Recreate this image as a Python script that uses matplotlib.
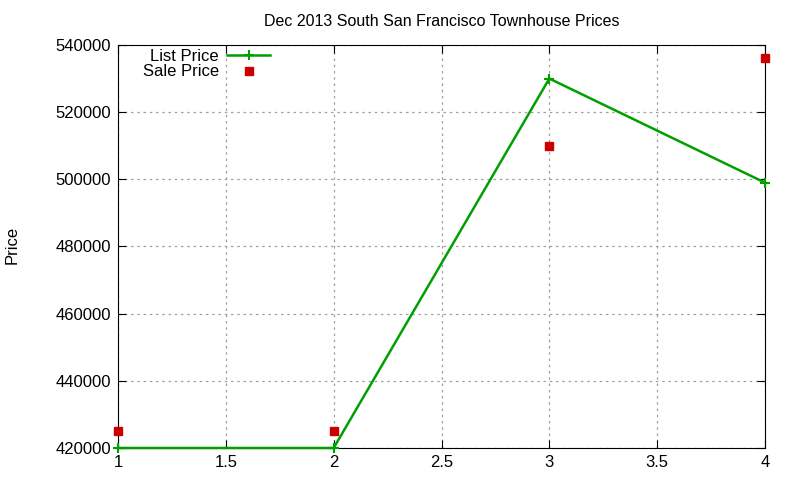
import matplotlib
matplotlib.use("Agg")
import matplotlib.pyplot as plt

plt.rcParams['font.family'] = ['Liberation Sans', 'DejaVu Sans']

# dados
listing = [1, 2, 3, 4]
list_price = [420000, 420000, 530000, 499000]
sale_price = [425000, 425000, 510000, 536000]
yticks = [420000, 440000, 460000, 480000, 500000, 520000, 540000]
xticks = [1, 1.5, 2, 2.5, 3, 3.5, 4]

fig = plt.figure(figsize=(8, 4.8), dpi=100)
ax = fig.add_axes([0.1475, 0.0667, 0.80875, 0.8396])

ax.plot(listing, list_price, color="#00a000", lw=1.8, marker="+", ms=7, mew=1.5,
        label="List Price", clip_on=False, zorder=3)
ax.plot(listing, sale_price, ls="none", color="#cc0000", marker="s", ms=6,
        label="Sale Price", clip_on=False, zorder=3)

ax.set_xlim(1, 4)
ax.set_ylim(420000, 540000)
ax.set_xticks(xticks)
ax.set_xticklabels(["1", "1.5", "2", "2.5", "3", "3.5", "4"])
ax.set_yticks(yticks)
ax.set_yticklabels([str(v) for v in yticks])
ax.tick_params(direction="in", top=True, right=True, labelsize=12, length=6, pad=5)
ax.grid(True, color="#a0a0a0", ls=(0, (2, 3)), lw=0.9)

ax.set_title("Dec 2013 South San Francisco Townhouse Prices", fontsize=11.5, pad=14)
fig.text(0.015, 0.49, "Price", rotation=90, fontsize=12, va="center", ha="center")

leg = ax.legend(loc="upper left", bbox_to_anchor=(0.02, 1.02), frameon=False,
                markerfirst=False, fontsize=12, handlelength=2.6, labelspacing=0.05,
                borderpad=0.2, handletextpad=0.5)

fig.savefig("out.png", dpi=100)
